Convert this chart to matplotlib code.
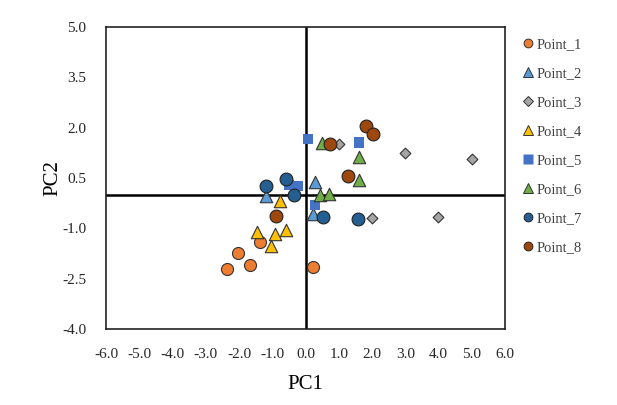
import matplotlib
matplotlib.use("Agg")
import matplotlib.pyplot as plt
from matplotlib.lines import Line2D

plt.rcParams['font.family'] = ['Liberation Serif', 'DejaVu Serif']

series = ["Point_1", "Point_2", "Point_3", "Point_4", "Point_5", "Point_6", "Point_7", "Point_8"]
pc1 = {
    "Point_1": [-2.35, -2.04, -1.67, -1.37, 0.23],
    "Point_2": [-1.19, 0.29, 0.23],
    "Point_3": [1.02, 2.0, 2.99, 5.0, 3.99],
    "Point_4": [-0.77, -1.45, -0.92, -0.6, -1.05],
    "Point_5": [0.07, 1.6, -0.49, -0.22, 0.29],
    "Point_6": [0.5, 1.6, 1.6, 0.44, 0.72],
    "Point_7": [-1.2, -0.59, -0.34, 0.52, 1.57],
    "Point_8": [1.82, 2.04, 0.74, 1.27, -0.89],
}
pc2 = {
    "Point_1": [-2.21, -1.74, -2.09, -1.41, -2.15],
    "Point_2": [-0.03, 0.37, -0.58],
    "Point_3": [1.52, -0.69, 1.24, 1.07, -0.65],
    "Point_4": [-0.18, -1.12, -1.16, -1.06, -1.52],
    "Point_5": [1.66, 1.56, 0.30, 0.27, -0.30],
    "Point_6": [1.54, 1.14, 0.45, -0.02, 0.02],
    "Point_7": [0.27, 0.47, 0.0, -0.65, -0.72],
    "Point_8": [2.04, 1.82, 1.51, 0.57, -0.62],
}
xticks = [-6.0, -5.0, -4.0, -3.0, -2.0, -1.0, 0.0, 1.0, 2.0, 3.0, 4.0, 5.0, 6.0]
yticks = [-4.0, -2.5, -1.0, 0.5, 2.0, 3.5, 5.0]

styles = {
    "Point_1": dict(marker='o', color='#ED7D31', s=75, edge='#333333', ms=6.3),
    "Point_2": dict(marker='^', color='#5B9BD5', s=80, edge='#333333', ms=6.5),
    "Point_3": dict(marker='D', color='#A5A5A5', s=30, edge='#333333', ms=4.8),
    "Point_4": dict(marker='^', color='#FFC000', s=80, edge='#333333', ms=6.5),
    "Point_5": dict(marker='s', color='#4472C4', s=55, edge='none', ms=7.0),
    "Point_6": dict(marker='^', color='#70AD47', s=80, edge='#333333', ms=6.5),
    "Point_7": dict(marker='o', color='#255E91', s=85, edge='#222222', ms=6.3),
    "Point_8": dict(marker='o', color='#9E480E', s=85, edge='#222222', ms=6.3),
}

fig = plt.figure(figsize=(6.17, 4.05), dpi=100)
ax = fig.add_axes([0.1718, 0.1877, 0.6467, 0.7456])

ax.axhline(0, color='black', lw=1.8, zorder=1)
ax.axvline(0, color='black', lw=1.8, zorder=1)

handles = []
for name in series:
    st = styles[name]
    ax.scatter(pc1[name], pc2[name], marker=st['marker'], s=st['s'],
               facecolor=st['color'], edgecolor=st['edge'], linewidth=0.8,
               zorder=3, label=name)
    handles.append(Line2D([], [], linestyle='none', marker=st['marker'],
                          markersize=st['ms'], markerfacecolor=st['color'],
                          markeredgecolor=st['edge'], markeredgewidth=0.7,
                          label=name))

ax.set_xlim(-6, 6)
ax.set_ylim(-4, 5)
ax.set_xticks(xticks)
ax.set_yticks(yticks)
ax.set_xticklabels([f"{v:.1f}" for v in xticks])
ax.set_yticklabels([f"{v:.1f}" for v in yticks])
ax.tick_params(length=0, labelsize=11, pad=14, colors='#262626')
for sp in ax.spines.values():
    sp.set_color('#222222')
    sp.set_linewidth(1.2)

ax.set_xlabel("PC1", fontsize=15, labelpad=10)
ax.set_ylabel("PC2", fontsize=15, labelpad=0)

leg = fig.legend(handles=handles, loc='upper left', bbox_to_anchor=(0.835, 0.92),
                 frameon=False, fontsize=10.5,
                 handletextpad=0.05, handlelength=1.0, labelspacing=1.08,
                 borderaxespad=0)
for t in leg.get_texts():
    t.set_color('#404040')

fig.savefig("out.png", dpi=100)
